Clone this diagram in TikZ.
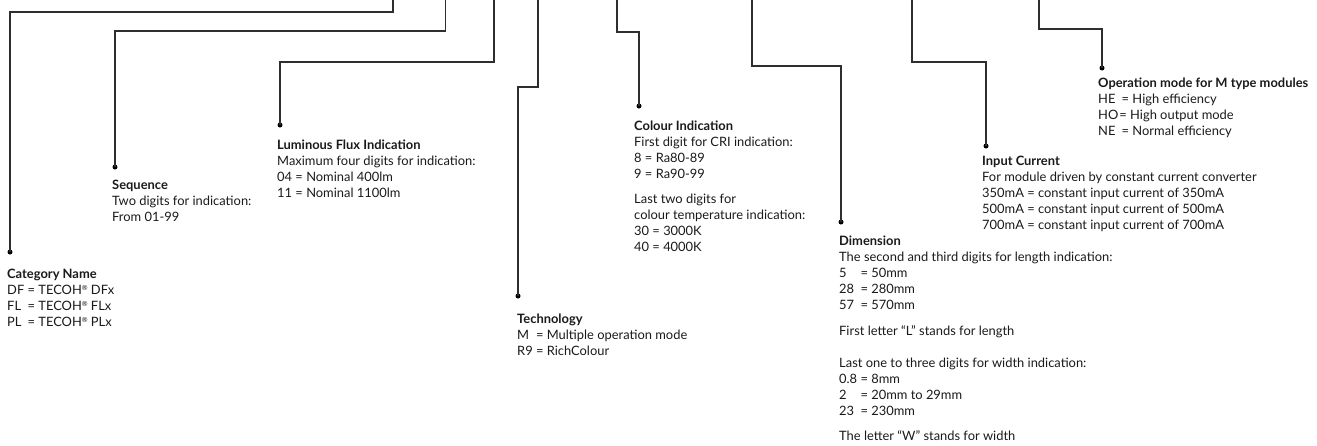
\documentclass[tikz,border=0pt]{standalone}
\usepackage{fontspec}
\setmainfont{Lato}
\definecolor{ink}{HTML}{1A1A1A}
\definecolor{wire}{HTML}{2E2E2E}
\newcommand\keyed[3]{\rlap{#2}\phantom{#1} = #3}
\newcommand\topstrut{\rule{0pt}{12pt}}
\newcommand\reg{\raisebox{0.5ex}{\fontsize{7}{7}\selectfont ®}}
\begin{document}
\begin{tikzpicture}[x=1pt,y=-1pt,
  wire/.style={draw=wire, line width=1.3pt},
  dot/.style={circle, fill=black, inner sep=0pt, minimum size=5pt},
  desc/.style={anchor=north west, align=left, inner sep=0pt, text=ink,
    font=\fontsize{12.9}{16}\selectfont}]
\useasboundingbox (0,0) rectangle (1317,445);

% top ends of the leaders
\coordinate (t1) at (393,0);
\coordinate (t2) at (445.5,0);
\coordinate (t3) at (494,0);
\coordinate (t4) at (538,0);
\coordinate (t5) at (617,0);
\coordinate (t6) at (752,0);
\coordinate (t7) at (912,0);
\coordinate (t8) at (1039,0);

% dots
\node[dot] (d1) at (10,252) {};
\node[dot] (d2) at (115,167) {};
\node[dot] (d3) at (280,125) {};
\node[dot] (d4) at (518,296) {};
\node[dot] (d5) at (639,106) {};
\node[dot] (d6) at (841,222) {};
\node[dot] (d7) at (986,146) {};
\node[dot] (d8) at (1102,68) {};

% leaders
\draw[wire] (t1) -- ++(0,12) -| (d1.center);
\draw[wire] (t2) -- ++(0,31) -| (d2.center);
\draw[wire] (t3) -- ++(0,62) -| (d3.center);
\draw[wire] (t4) -- ++(0,87) -| (d4.center);
\draw[wire] (t5) -- ++(0,32) -| (d5.center);
\draw[wire] (t6) -- ++(0,66) -| (d6.center);
\draw[wire] (t7) -- ++(0,62) -| (d7.center);
\draw[wire] (t8) -- ++(0,29) -| (d8.center);

% texts (first baseline = y + 12)
\node[desc] (cat) at (7,266) {\topstrut\textbf{Category Name}\\
  \keyed{DF}{DF}{TECOH\reg{} DFx}\\
  \keyed{DF}{FL}{TECOH\reg{} FLx}\\
  \keyed{DF}{PL}{TECOH\reg{} PLx}};

\node[desc] (seq) at (112,177) {\topstrut\textbf{Sequence}\\
  Two digits for indication:\\
  From 01-99};

\node[desc] (lum) at (277,137) {\topstrut\textbf{Luminous Flux Indication}\\
  Maximum four digits for indication:\\
  04 = Nominal 400lm\\
  11 = Nominal 1100lm};

\node[desc] (tech) at (517,311) {\topstrut\textbf{Technology}\\
  \keyed{R9}{M}{Multiple operation mode}\\
  R9 = RichColour};

\node[desc] (col) at (634,118) {\topstrut\textbf{Colour Indication}\\
  First digit for CRI indication:\\
  8 = Ra80-89\\
  9 = Ra90-99\\[9pt]
  Last two digits for\\
  colour temperature indication:\\
  30 = 3000K\\
  40 = 4000K};

\node[desc] (dim) at (839,233) {\topstrut\textbf{Dimension}\\
  The second and third digits for length indication:\\
  \keyed{0.8}{5}{50mm}\\
  \keyed{0.8}{28}{280mm}\\
  \keyed{0.8}{57}{570mm}\\[10pt]
  First letter “L” stands for length\\[16pt]
  Last one to three digits for width indication:\\
  0.8 = 8mm\\
  \keyed{0.8}{2}{20mm to 29mm}\\
  \keyed{0.8}{23}{230mm}\\[9pt]
  The letter “W” stands for width};

\node[desc] (inp) at (982,153) {\topstrut\textbf{Input Current}\\
  For module driven by constant current converter\\
  350mA = constant input current of 350mA\\
  500mA = constant input current of 500mA\\
  700mA = constant input current of 700mA};

\node[desc] (op) at (1098,75) {\topstrut\textbf{Operation mode for M type modules}\\
  \keyed{HO}{HE}{High efficiency}\\
  HO\kern1pt= High output mode\\
  \keyed{HO}{NE}{Normal efficiency}};
\end{tikzpicture}
\end{document}
